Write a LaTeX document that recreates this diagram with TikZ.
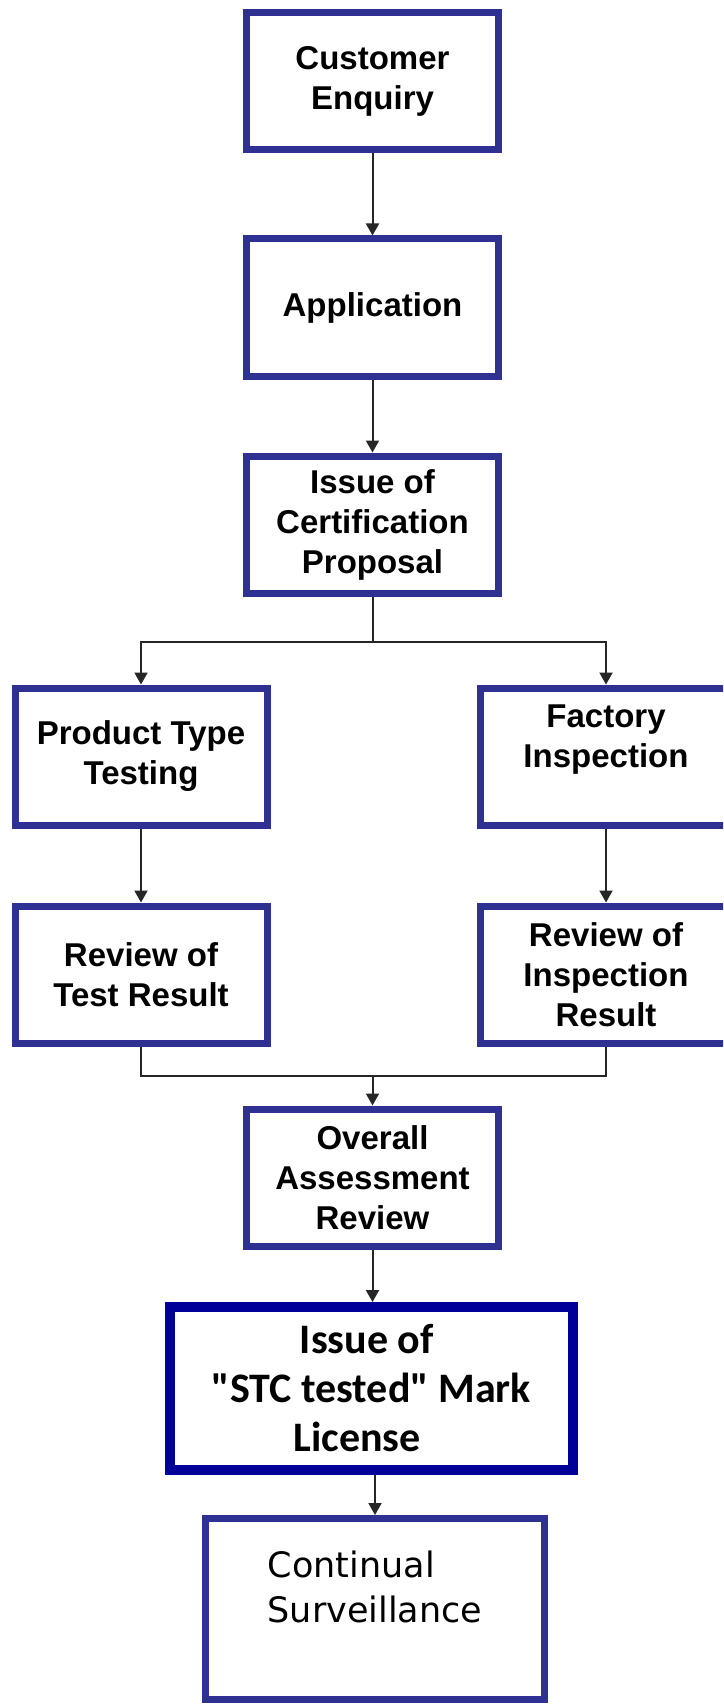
\documentclass[tikz,border=0pt]{standalone}
\usepackage{fontspec}
\setmainfont{Liberation Sans}
\newfontfamily\markfont{Carlito}
\newfontfamily\survfont{DejaVu Sans}
\usetikzlibrary{arrows.meta}
\definecolor{boxblue}{RGB}{46,49,146}
\definecolor{markblue}{RGB}{0,0,153}

\begin{document}
\begin{tikzpicture}[x=1pt, y=-1pt,
  box/.style={draw=boxblue, line width=7pt, fill=white, align=center, inner sep=0pt,
    minimum width=252pt, minimum height=137pt, font=\fontsize{33}{40}\selectfont\bfseries},
  markbox/.style={box, draw=markblue, line width=10pt, minimum width=403pt, minimum height=163pt,
    font=\markfont\fontsize{42}{49}\selectfont\bfseries},
  survbox/.style={box, align=left, minimum width=339pt, minimum height=181pt,
    font=\survfont\fontsize{35}{45}\selectfont},
  link/.style={draw=black!85, line width=2pt},
  arr/.style={link, -{Triangle[width=13pt,length=12pt]}}]
\def\xleft{141};
\def\xmid{372.5};
\def\xright{606};

\useasboundingbox (0,0) rectangle (723,1704);
\fill[white] (0,0) rectangle (723,1704);
\clip (0,0) rectangle (723,1704);

\node[box] (cust) at (\xmid, 81) {Customer\\Enquiry};
\node[box] (appl) at (\xmid, 307.5) {Application};
\node[box] (cert) at (\xmid, 524.5) {Issue of\\Certification\\Proposal};

\node[box] (ptt) at (\xleft, 756.5) {Product Type\\Testing};
\node[box] (fact) at (\xright, 756.5) {Factory\\Inspection\\\mbox{}};
\node[box] (rtest) at (\xleft, 974.5) {Review of\\Test Result};
\node[box] (rinsp) at (\xright, 974.5) {Review of\\Inspection\\Result};

\node[box] (overall) at (\xmid, 1177.5) {Overall\\Assessment\\Review};
\node[markbox] (mark) at (371.5, 1388.5) {Issue of~~\\"STC tested" Mark~\\License~~~~};
\node[survbox] (surv) at (375, 1609) {Continual\\Surveillance~\\\mbox{}};

\coordinate (split) at (\xmid, 642);
\coordinate (merge) at (\xmid, 1076);

\draw[arr] (cust.south) -- (appl.north);
\draw[arr] (appl.south) -- (cert.north);
\draw[link] (cert.south) -- (split);
\draw[arr] (split) -| (ptt.north);
\draw[arr] (split) -| (fact.north);
\draw[arr] (ptt.south) -- (rtest.north);
\draw[arr] (fact.south) -- (rinsp.north);
\draw[link] (rtest.south) |- (merge) -| (rinsp.south);
\draw[arr] (merge) -- (overall.north);
\draw[arr] (overall.south) -- (overall.south |- mark.north);
\draw[arr] (mark.south -| surv.north) -- (surv.north);

\end{tikzpicture}
\end{document}
